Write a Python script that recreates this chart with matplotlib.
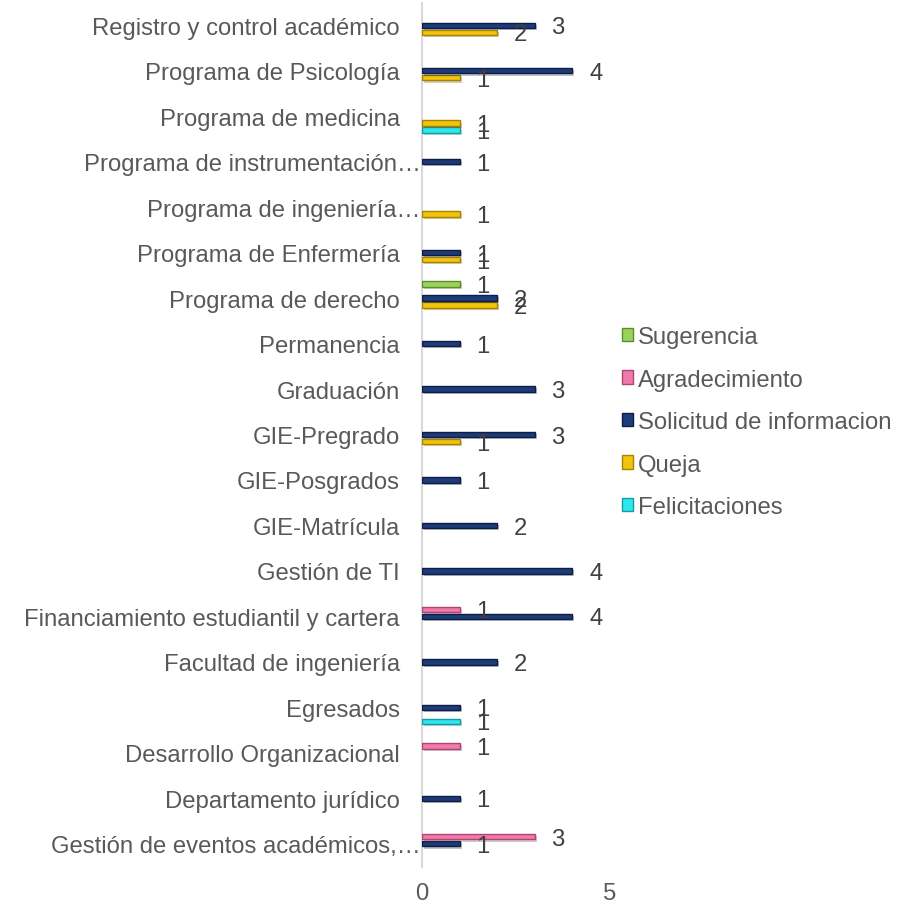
import numpy as np
import matplotlib
matplotlib.use("Agg")
import matplotlib.pyplot as plt
from matplotlib.transforms import ScaledTranslation
from matplotlib.patches import Patch
import matplotlib.patheffects as pe

plt.rcParams['font.family'] = ['Liberation Sans', 'DejaVu Sans']

# Categories, bottom to top
categories = [
    "Gestión de eventos académicos,…",
    "Departamento jurídico",
    "Desarrollo Organizacional",
    "Egresados",
    "Facultad de ingeniería",
    "Financiamiento estudiantil y cartera",
    "Gestión de TI",
    "GIE-Matrícula",
    "GIE-Posgrados",
    "GIE-Pregrado",
    "Graduación",
    "Permanencia",
    "Programa de derecho",
    "Programa de Enfermería",
    "Programa de ingeniería…",
    "Programa de instrumentación…",
    "Programa de medicina",
    "Programa de Psicología",
    "Registro y control académico",
]

nan = np.nan
felicitaciones = [nan, nan, nan, 1, nan, nan, nan, nan, nan, nan, nan, nan, nan, nan, nan, nan, 1, nan, nan]
queja          = [nan, nan, nan, nan, nan, nan, nan, nan, nan, 1, nan, nan, 2, 1, 1, nan, 1, 1, 2]
solicitud      = [1, 1, nan, 1, 2, 4, 4, 2, 1, 3, 3, 1, 2, 1, nan, 1, nan, 4, 3]
agradecimiento = [3, nan, 1, nan, nan, 1, nan, nan, nan, nan, nan, nan, nan, nan, nan, nan, nan, nan, nan]
sugerencia     = [nan, nan, nan, nan, nan, nan, nan, nan, nan, nan, nan, nan, 1, nan, nan, nan, nan, nan, nan]

series_names = ["Felicitaciones", "Queja", "Solicitud de informacion", "Agradecimiento", "Sugerencia"]
series_values = [felicitaciones, queja, solicitud, agradecimiento, sugerencia]
face_colors = ["#2EE6EE", "#F2C40C", "#1F3A78", "#F07AAE", "#9BD35A"]
edge_colors = ["#169DA3", "#A88300", "#0D1E45", "#B0456F", "#5E8C2A"]

fig = plt.figure(figsize=(9.2, 9.03), dpi=100)
ax = fig.add_axes([422/920, 35.5/903, 188/920, 864/903])

y = np.arange(len(categories))
step = 0.154
h = 0.12
txt_color = "#595959"
FS = 17.2

for i, (name, vals) in enumerate(zip(series_names, series_values)):
    v = np.array(vals, dtype=float)
    pos = y + (i - 2) * step
    bars = ax.barh(pos, np.nan_to_num(v), height=h, color=face_colors[i],
                   edgecolor=edge_colors[i], linewidth=1.0, zorder=3)
    for b, val in zip(bars, v):
        b.set_path_effects([pe.SimplePatchShadow(offset=(1.5, -1.5), alpha=0.25), pe.Normal()])
        if np.isnan(val):
            b.set_visible(False)
    for p, val in zip(pos, v):
        if not np.isnan(val) and val > 0:
            ax.annotate(f"{int(val)}", xy=(val, p), xytext=(12, -1.5), textcoords="offset points",
                        ha="left", va="center", fontsize=FS, color="#404040", zorder=5)

ax.set_xlim(0, 5)
ax.set_ylim(-0.5, len(categories) - 0.5)
ax.set_xticks([0, 5])
ax.set_yticks(y)
ax.set_yticklabels(categories)
ax.tick_params(axis='y', length=0, pad=16, labelsize=FS, labelcolor=txt_color)
ax.tick_params(axis='x', length=0, pad=11, labelsize=FS, labelcolor=txt_color)

for lab in ax.get_yticklabels():
    if lab.get_text().endswith("…"):
        lab.set_transform(lab.get_transform() + ScaledTranslation(15/72, 0, fig.dpi_scale_trans))

for s in ["top", "right", "bottom"]:
    ax.spines[s].set_visible(False)
ax.spines["left"].set_color("#D9D9D9")
ax.spines["left"].set_linewidth(1.5)

handles = [Patch(facecolor=face_colors[i], edgecolor=edge_colors[i], linewidth=1.0, label=series_names[i])
           for i in range(len(series_names))][::-1]
leg = fig.legend(handles=handles, loc="upper left", bbox_to_anchor=(622/920, 1 - 327/903),
                 frameon=False, fontsize=FS, labelcolor=txt_color, handlelength=0.48, handleheight=0.48,
                 handletextpad=0.2, labelspacing=0.86, borderaxespad=0, borderpad=0)

fig.savefig("out.png", dpi=100)
